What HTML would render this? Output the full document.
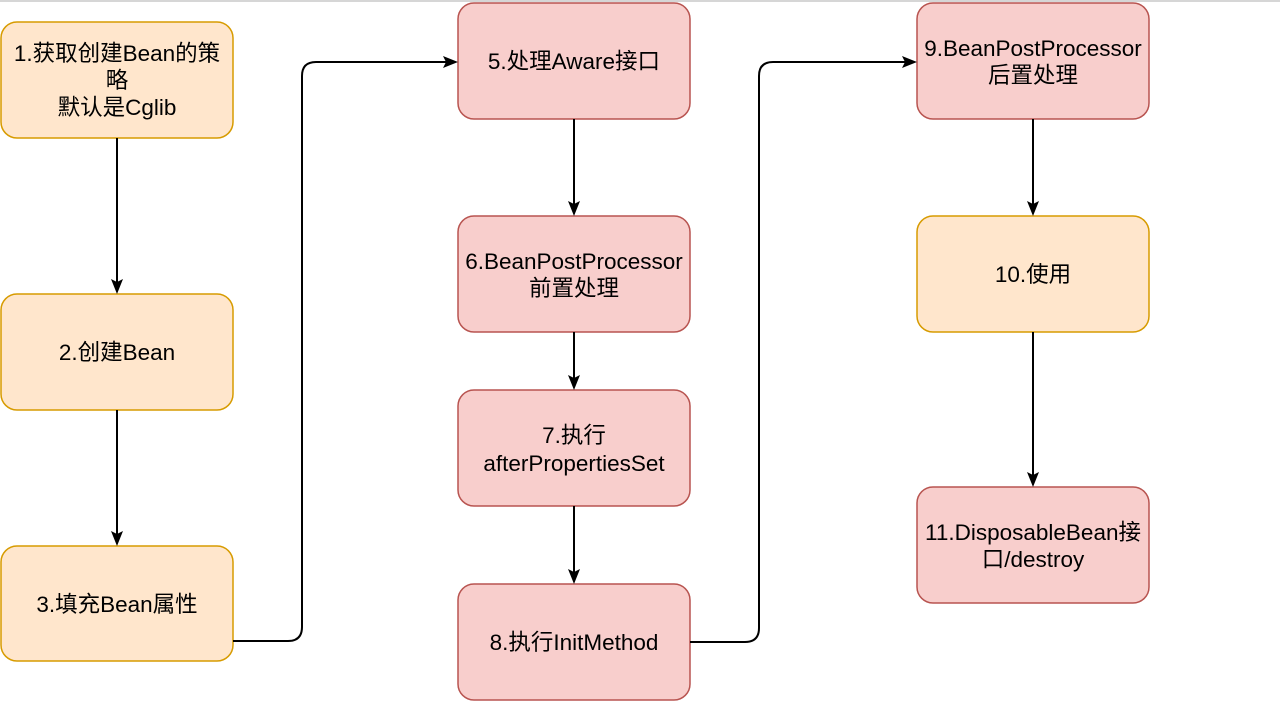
<!DOCTYPE html>
<html><head><meta charset="utf-8"><style>
body{margin:0;background:#fff}
text{font-family:"Liberation Sans","Noto Sans CJK SC",sans-serif;font-size:22.5px;fill:#000;text-anchor:middle}
</style></head><body>
<svg width="1280" height="711" xmlns="http://www.w3.org/2000/svg">
<line x1="0" y1="1" x2="1280" y2="1" stroke="#c8c8c8" stroke-width="1.5"/>
<g stroke-width="1.5">
<rect x="1" y="22" width="232" height="116" rx="16" fill="#ffe6cc" stroke="#d79b00"/>
<rect x="1" y="294" width="232" height="116" rx="16" fill="#ffe6cc" stroke="#d79b00"/>
<rect x="1" y="546" width="232" height="115" rx="16" fill="#ffe6cc" stroke="#d79b00"/>
<rect x="458" y="3" width="232" height="116" rx="16" fill="#f8cecc" stroke="#b85450"/>
<rect x="458" y="216" width="232" height="116" rx="16" fill="#f8cecc" stroke="#b85450"/>
<rect x="458" y="390" width="232" height="116" rx="16" fill="#f8cecc" stroke="#b85450"/>
<rect x="458" y="584" width="232" height="116" rx="16" fill="#f8cecc" stroke="#b85450"/>
<rect x="917" y="3" width="232" height="116" rx="16" fill="#f8cecc" stroke="#b85450"/>
<rect x="917" y="216" width="232" height="116" rx="16" fill="#ffe6cc" stroke="#d79b00"/>
<rect x="917" y="487" width="232" height="116" rx="16" fill="#f8cecc" stroke="#b85450"/>
</g>
<g stroke="#000" stroke-width="2" fill="none">
<line x1="117" y1="138" x2="117" y2="282"/>
<line x1="117" y1="410" x2="117" y2="534"/>
<line x1="574" y1="119" x2="574" y2="204"/>
<line x1="574" y1="332" x2="574" y2="378"/>
<line x1="574" y1="506" x2="574" y2="572"/>
<line x1="1033" y1="119" x2="1033" y2="204"/>
<line x1="1033" y1="332" x2="1033" y2="475"/>
<path d="M233,641 L288,641 Q302,641 302,627 L302,76 Q302,62 316,62 L446,62"/>
<path d="M690,642 L745,642 Q759,642 759,628 L759,76 Q759,62 773,62 L905,62"/>
</g>
<g fill="#000">
<path d="M111,279 L117,294 L123,279 L117,282Z"/>
<path d="M111,531 L117,546 L123,531 L117,534Z"/>
<path d="M568,201 L574,216 L580,201 L574,204Z"/>
<path d="M568,375 L574,390 L580,375 L574,378Z"/>
<path d="M568,569 L574,584 L580,569 L574,572Z"/>
<path d="M1027,201 L1033,216 L1039,201 L1033,204Z"/>
<path d="M1027,472 L1033,487 L1039,472 L1033,475Z"/>
<path d="M443,56 L458,62 L443,68 L446,62Z"/>
<path d="M902,56 L917,62 L902,68 L905,62Z"/>
</g>
<text x="117" y="61">1.获取创建Bean的策</text>
<text x="117" y="88">略</text>
<text x="117" y="115">默认是Cglib</text>
<text x="117" y="360">2.创建Bean</text>
<text x="117" y="612">3.填充Bean属性</text>
<text x="574" y="69">5.处理Aware接口</text>
<text x="574" y="269">6.BeanPostProcessor</text>
<text x="574" y="296">前置处理</text>
<text x="574" y="443">7.执行</text>
<text x="574" y="471">afterPropertiesSet</text>
<text x="574" y="650">8.执行InitMethod</text>
<text x="1033" y="56">9.BeanPostProcessor</text>
<text x="1033" y="83">后置处理</text>
<text x="1033" y="282">10.使用</text>
<text x="1033" y="540">11.DisposableBean接</text>
<text x="1033" y="567">口/destroy</text>
</svg>
</body></html>
